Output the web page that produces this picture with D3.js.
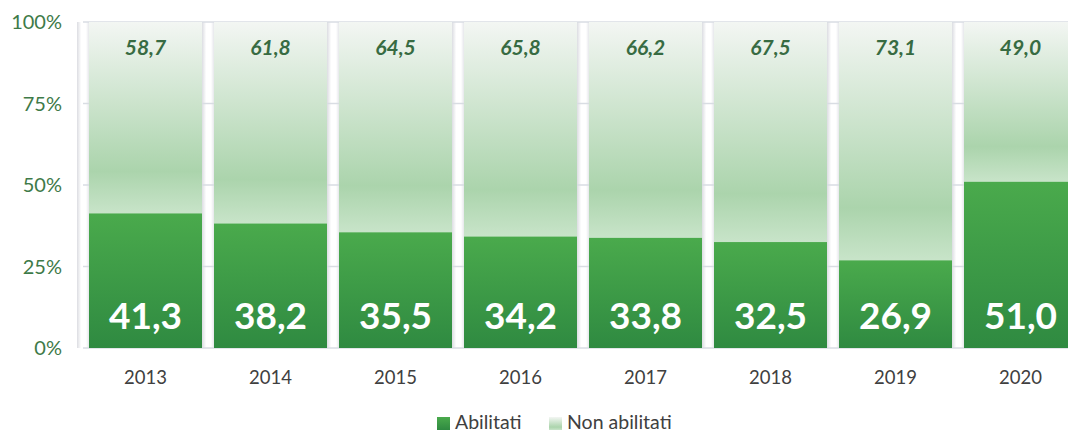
<!DOCTYPE html>
<html>
<head>
<meta charset="utf-8">
<script src="https://cdn.jsdelivr.net/npm/d3@7"></script>
<style>
  body { margin: 0; background: #fff; }
  svg { display: block; font-family: Lato, "Open Sans", sans-serif; }
</style>
</head>
<body>
<svg width="1068" height="432"></svg>
<script>
var years = ["2013", "2014", "2015", "2016", "2017", "2018", "2019", "2020"];
var abilitati = [41.3, 38.2, 35.5, 34.2, 33.8, 32.5, 26.9, 51.0];
var nonAbilitati = [58.7, 61.8, 64.5, 65.8, 66.2, 67.5, 73.1, 49.0];
var yTicks = [0, 25, 50, 75, 100];
var legendLabels = ["Abilitati", "Non abilitati"];

var svg = d3.select("svg");

var x = d3.scaleBand()
    .domain(years)
    .range([83, 1083])
    .paddingInner(0.096)
    .paddingOuter(0.048);

var y = d3.scaleLinear()
    .domain([0, 100])
    .range([348, 22]);

var fmt = function (v) {
    return d3.format(".1f")(v).replace(".", ",");
};

var defs = svg.append("defs");

var gDark = defs.append("linearGradient")
    .attr("id", "dark").attr("x1", 0).attr("y1", 0).attr("x2", 0).attr("y2", 1);
gDark.append("stop").attr("offset", "0%").attr("stop-color", "#4aaa4c");
gDark.append("stop").attr("offset", "100%").attr("stop-color", "#2f8a41");

var gLight = defs.append("linearGradient")
    .attr("id", "light").attr("x1", 0).attr("y1", 0).attr("x2", 0).attr("y2", 1);
gLight.append("stop").attr("offset", "0%").attr("stop-color", "#f3f6f3");
gLight.append("stop").attr("offset", "78%").attr("stop-color", "#abd4ac");
gLight.append("stop").attr("offset", "100%").attr("stop-color", "#c8e4c9");

var gGap = defs.append("linearGradient")
    .attr("id", "gap").attr("x1", 0).attr("y1", 0).attr("x2", 1).attr("y2", 0);
gGap.append("stop").attr("offset", "0%").attr("stop-color", "#dcdde2");
gGap.append("stop").attr("offset", "35%").attr("stop-color", "#ffffff");
gGap.append("stop").attr("offset", "75%").attr("stop-color", "#ffffff");
gGap.append("stop").attr("offset", "100%").attr("stop-color", "#e6e7eb");

// shadow gaps between bars
svg.append("g")
    .selectAll("rect")
    .data(years)
    .enter().append("rect")
    .attr("x", function (d) { return x(d) - 12; })
    .attr("y", y(100))
    .attr("width", 12)
    .attr("height", y(0) - y(100))
    .attr("fill", "url(#gap)");

// gridlines
svg.append("g")
    .selectAll("line")
    .data(yTicks)
    .enter().append("line")
    .attr("x1", 83)
    .attr("x2", 1083)
    .attr("y1", function (d) { return y(d); })
    .attr("y2", function (d) { return y(d); })
    .attr("stroke", "#d9dde3")
    .attr("stroke-width", 1.5);

var bars = svg.append("g")
    .selectAll("g")
    .data(years)
    .enter().append("g");

bars.append("rect")
    .attr("x", function (d) { return x(d); })
    .attr("width", x.bandwidth())
    .attr("y", function (d, i) { return y(abilitati[i] + nonAbilitati[i]); })
    .attr("height", function (d, i) { return y(abilitati[i]) - y(abilitati[i] + nonAbilitati[i]); })
    .attr("fill", "url(#light)");

bars.append("rect")
    .attr("x", function (d) { return x(d); })
    .attr("width", x.bandwidth())
    .attr("y", function (d, i) { return y(abilitati[i]); })
    .attr("height", function (d, i) { return y(0) - y(abilitati[i]); })
    .attr("fill", "url(#dark)");

bars.append("text")
    .attr("x", function (d) { return x(d) + x.bandwidth() / 2; })
    .attr("y", 55)
    .attr("text-anchor", "middle")
    .attr("font-size", 21)
    .attr("font-weight", "bold")
    .attr("font-style", "italic")
    .attr("fill", "#376b42")
    .text(function (d, i) { return fmt(nonAbilitati[i]); });

bars.append("text")
    .attr("x", function (d) { return x(d) + x.bandwidth() / 2; })
    .attr("y", 329)
    .attr("text-anchor", "middle")
    .attr("font-size", 37)
    .attr("font-weight", "bold")
    .attr("fill", "#ffffff")
    .text(function (d, i) { return fmt(abilitati[i]); });

// y axis labels
svg.append("g")
    .selectAll("text")
    .data(yTicks)
    .enter().append("text")
    .attr("x", 62)
    .attr("y", function (d) { return y(d); })
    .attr("dy", "0.35em")
    .attr("text-anchor", "end")
    .attr("font-size", 20)
    .attr("fill", "#3e7a48")
    .text(function (d) { return d + "%"; });

// x axis labels
svg.append("g")
    .selectAll("text")
    .data(years)
    .enter().append("text")
    .attr("x", function (d) { return x(d) + x.bandwidth() / 2; })
    .attr("y", 378)
    .attr("dy", "0.35em")
    .attr("text-anchor", "middle")
    .attr("font-size", 18.5)
    .attr("fill", "#404040")
    .text(function (d) { return d; });

// legend
var legend = svg.append("g");
var legendX = [437, 549];
var legendFill = ["url(#dark)", "url(#light)"];

legend.selectAll("rect")
    .data(legendLabels)
    .enter().append("rect")
    .attr("x", function (d, i) { return legendX[i]; })
    .attr("y", 417)
    .attr("width", 13)
    .attr("height", 13)
    .attr("fill", function (d, i) { return legendFill[i]; });

legend.selectAll("text")
    .data(legendLabels)
    .enter().append("text")
    .attr("x", function (d, i) { return legendX[i] + 18; })
    .attr("y", 422)
    .attr("dy", "0.35em")
    .attr("font-size", 19.5)
    .attr("fill", "#404040")
    .text(function (d) { return d; });
</script>
</body>
</html>
